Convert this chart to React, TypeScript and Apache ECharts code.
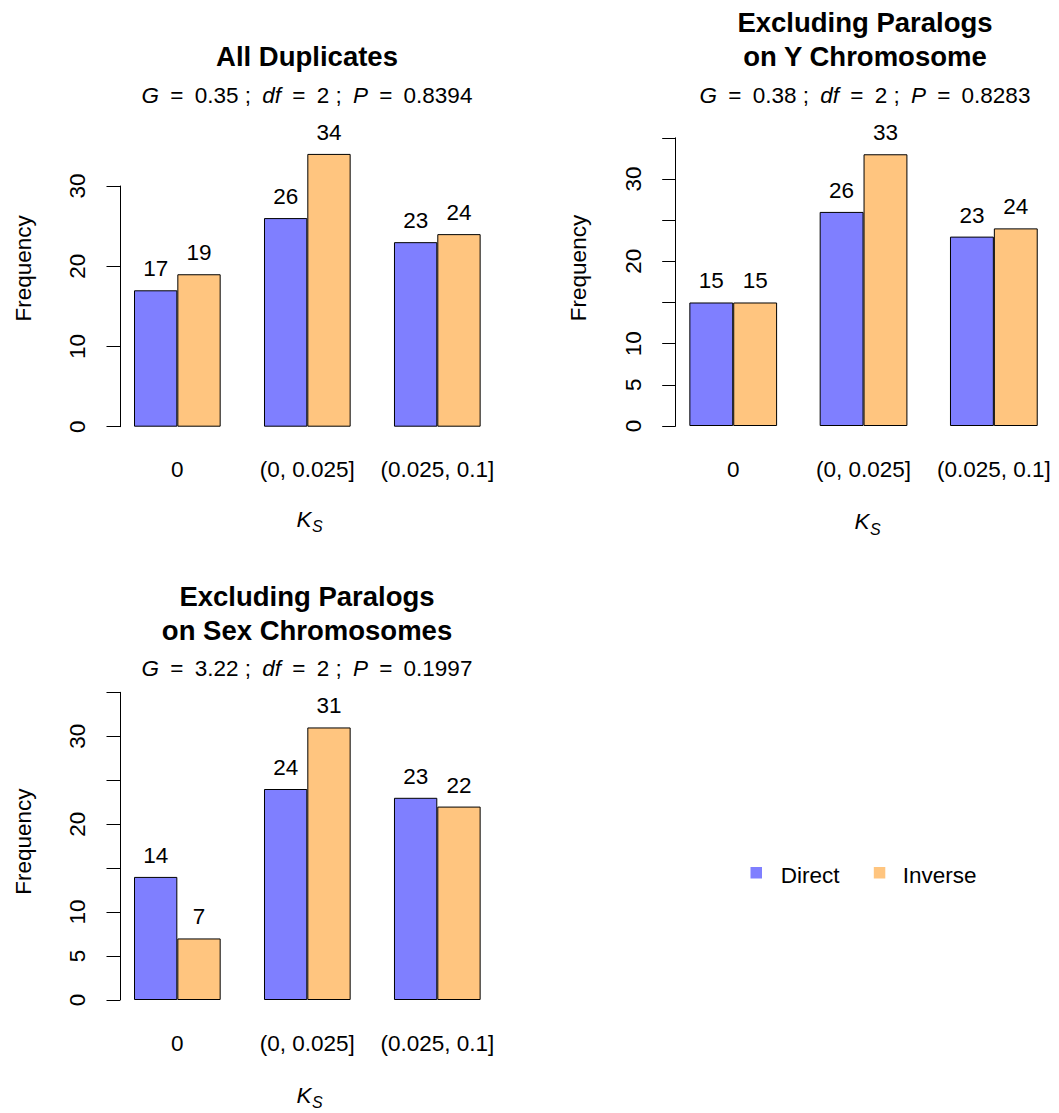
import React, { useEffect, useRef } from "react";
import * as echarts from "echarts";

// ---- Data ----
const categories = ["0", "(0, 0.025]", "(0.025, 0.1]"];
const seriesNames = ["Direct", "Inverse"];

const allDirect = [17, 26, 23];
const allInverse = [19, 34, 24];
const yDirect = [15, 26, 23];
const yInverse = [15, 33, 24];
const sexDirect = [14, 24, 23];
const sexInverse = [7, 31, 22];

const panelTitles = [
  ["All Duplicates"],
  ["Excluding Paralogs", "on Y Chromosome"],
  ["Excluding Paralogs", "on Sex Chromosomes"],
];
const gValues = ["0.35", "0.38", "3.22"];
const dfValues = ["2", "2", "2"];
const pValues = ["0.8394", "0.8283", "0.1997"];

const yMax = [30, 35, 35];
const yInterval = [10, 5, 5];
const yTickLabels = [
  [0, 10, 20, 30],
  [0, 5, 10, 20, 30],
  [0, 5, 10, 20, 30],
];

const colors = ["#7F7FFF", "#FFC57F"];
const FONT = "Liberation Sans, Arial, sans-serif";
const FS = 22.5;

// ---- Layout (pixels) ----
const layout = [
  { axisX: 120, barStart: 134, unit: 43.33, top: 186, bottom: 426.7, cx: 307,
    titleY: [56.7], subY: 95, catFreqY: 268.3, freqX: 23.3, kY: 519, sY: 526.7 },
  { axisX: 675.7, barStart: 690, unit: 43.875, top: 137.8, bottom: 426, cx: 865,
    titleY: [22.7, 56], subY: 95, catFreqY: 268, freqX: 578.3, kY: 521.7, sY: 529 },
  { axisX: 120, barStart: 134, unit: 43.33, top: 692.3, bottom: 1000, cx: 307,
    titleY: [596.7, 630], subY: 668.3, catFreqY: 841.7, freqX: 23.3, kY: 1095.7, sY: 1102.3 },
];

export default function App() {
  const ref = useRef<HTMLDivElement>(null);

  useEffect(() => {
    if (!ref.current) return;
    const chart = echarts.init(ref.current, null, { renderer: "svg" });
    const panelData = [
      [allDirect, allInverse],
      [yDirect, yInverse],
      [sexDirect, sexInverse],
    ];

    const grids: any[] = [];
    const xAxes: any[] = [];
    const yAxes: any[] = [];
    const series: any[] = [];
    const graphics: any[] = [];

    layout.forEach((L, i) => {
      const left = L.barStart - 0.5 * L.unit;
      const width = 9 * L.unit;
      grids.push({ left, top: L.top, width, height: L.bottom - L.top, containLabel: false });
      xAxes.push({
        type: "category",
        gridIndex: i,
        data: categories,
        axisLine: { show: false },
        axisTick: { show: false },
        splitLine: { show: false },
        axisLabel: {
          interval: 0,
          hideOverlap: false,
          margin: 32,
          fontSize: FS,
          fontFamily: FONT,
          color: "#000",
          lineHeight: FS,
        },
      });
      yAxes.push({
        type: "value",
        gridIndex: i,
        min: 0,
        max: yMax[i],
        interval: yInterval[i],
        offset: -(L.axisX - left),
        axisLine: { show: true, lineStyle: { color: "#000", width: 1 } },
        axisTick: { show: true, length: 13.5, lineStyle: { color: "#000", width: 1 } },
        splitLine: { show: false },
        axisLabel: {
          rotate: 90,
          margin: 31,
          fontSize: FS,
          fontFamily: FONT,
          color: "#000",
          lineHeight: FS,
          formatter: (v: number) => (yTickLabels[i].includes(v) ? String(v) : ""),
        },
      });
      panelData[i].forEach((vals, s) => {
        series.push({
          type: "bar",
          name: seriesNames[s],
          xAxisIndex: i,
          yAxisIndex: i,
          data: vals,
          barWidth: L.unit,
          barGap: "0%",
          clip: false,
          itemStyle: { color: colors[s], borderColor: "#000", borderWidth: 1 },
          label: {
            show: true,
            position: "top",
            distance: 10,
            fontSize: FS,
            fontFamily: FONT,
            color: "#000",
          },
        });
      });

      // titles
      panelTitles[i].forEach((t, k) => {
        graphics.push({
          type: "text",
          x: L.cx,
          y: L.titleY[k],
          style: {
            text: t,
            fontSize: 27.5,
            fontWeight: "bold",
            fontFamily: FONT,
            fill: "#000",
            align: "center",
            verticalAlign: "middle",
            textAlign: "center",
            textVerticalAlign: "middle",
          },
        });
      });
      // subtitle
      const sp = "\u2002";
      graphics.push({
        type: "text",
        x: L.cx,
        y: L.subY,
        style: {
          text:
            `{i|G}{n|${sp}=${sp}${gValues[i]} ;${sp}}{i|df}{n|${sp}=${sp}${dfValues[i]} ;${sp}}{i|P}{n|${sp}=${sp}${pValues[i]}}`,
          align: "center",
          verticalAlign: "middle",
          textAlign: "center",
          textVerticalAlign: "middle",
          rich: {
            i: { fontStyle: "italic", fontSize: FS, fontFamily: FONT, fill: "#000" },
            n: { fontSize: FS, fontFamily: FONT, fill: "#000" },
          },
        },
      });
      // Frequency
      graphics.push({
        type: "text",
        x: L.freqX,
        y: L.catFreqY,
        rotation: Math.PI / 2,
        style: {
          text: "Frequency",
          fontSize: FS,
          fontFamily: FONT,
          fill: "#000",
          align: "center",
          verticalAlign: "middle",
          textAlign: "center",
          textVerticalAlign: "middle",
        },
      });
      // K_S
      graphics.push({
        type: "text",
        x: L.cx + 4.5,
        y: L.kY,
        style: {
          text: "K",
          fontSize: FS,
          fontStyle: "italic",
          fontFamily: FONT,
          fill: "#000",
          align: "right",
          verticalAlign: "middle",
          textAlign: "right",
          textVerticalAlign: "middle",
        },
      });
      graphics.push({
        type: "text",
        x: L.cx + 5,
        y: L.sY,
        style: {
          text: "S",
          fontSize: 16,
          fontStyle: "italic",
          fontFamily: FONT,
          fill: "#000",
          align: "left",
          verticalAlign: "middle",
          textAlign: "left",
          textVerticalAlign: "middle",
        },
      });
    });

    // legend
    const legendItems = [
      { sq: 750.5, tx: 780.7 },
      { sq: 873.8, tx: 902.7 },
    ];
    legendItems.forEach((it, s) => {
      graphics.push({
        type: "rect",
        shape: { x: it.sq, y: 867, width: 11.5, height: 11.5 },
        style: { fill: colors[s] },
      });
      graphics.push({
        type: "text",
        x: it.tx,
        y: 875,
        style: {
          text: seriesNames[s],
          fontSize: FS,
          fontFamily: FONT,
          fill: "#000",
          align: "left",
          verticalAlign: "middle",
          textAlign: "left",
          textVerticalAlign: "middle",
        },
      });
    });

    chart.setOption({
      animation: false,
      backgroundColor: "#fff",
      grid: grids,
      xAxis: xAxes,
      yAxis: yAxes,
      series,
      graphic: graphics,
    });
    return () => chart.dispose();
  }, []);

  return (
    <div
      ref={ref}
      style={{ position: "absolute", left: 0, top: 0, width: 1059, height: 1113 }}
    />
  );
}
